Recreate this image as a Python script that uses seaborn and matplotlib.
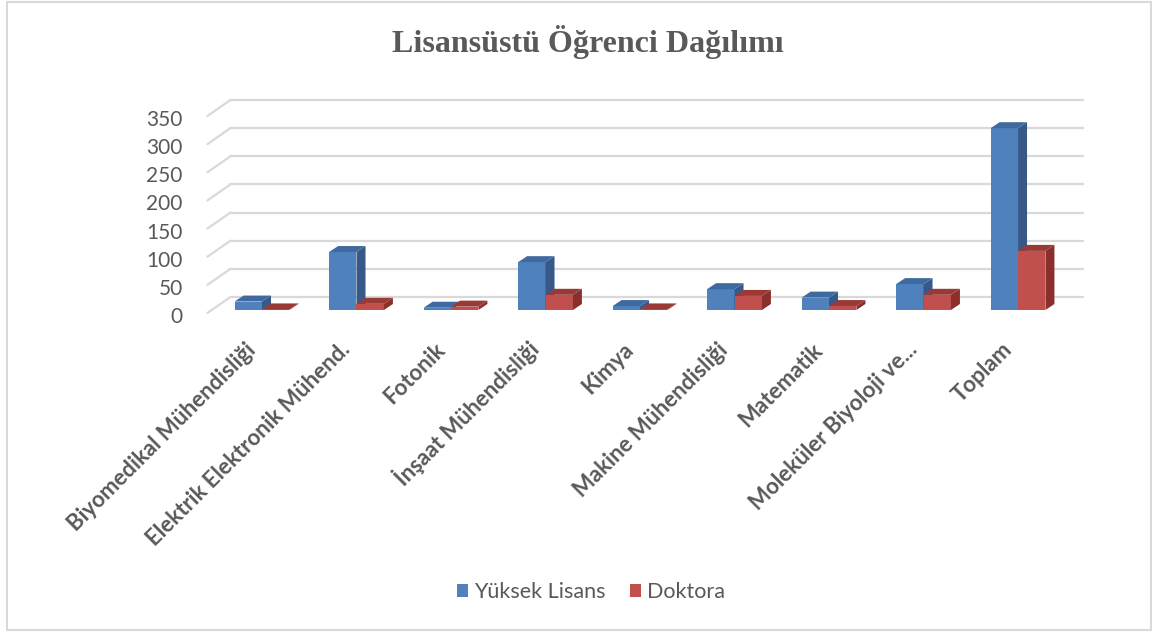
import numpy as np
import pandas as pd
import matplotlib
matplotlib.use("Agg")
import matplotlib.pyplot as plt
import matplotlib.transforms as mtransforms
from matplotlib.patches import Polygon, Rectangle, Patch
from matplotlib.lines import Line2D
import seaborn as sns

# veriler
bolumler = ["Biyomedikal Mühendisliği", "Elektrik Elektronik Mühend.", "Fotonik",
            "İnşaat Mühendisliği", "Kimya", "Makine Mühendisliği", "Matematik",
            "Moleküler Biyoloji ve...", "Toplam"]
yuksek_lisans = [15, 103, 4, 85, 7, 37, 22, 46, 323]
doktora = [1, 11, 6, 27, 1, 25, 7, 27, 105]
seriler = ["Yüksek Lisans", "Doktora"]
y_ticks = [0, 50, 100, 150, 200, 250, 300, 350]

on_renk = ["#4F81BD", "#C0504D"]
yan_renk = ["#36598A", "#8A2F2C"]
ust_renk = ["#3F6A9F", "#9A3A37"]
gri = "#595959"

df = pd.DataFrame({
    "bolum": bolumler * 2,
    "sayi": yuksek_lisans + doktora,
    "tur": [seriler[0]] * len(bolumler) + [seriler[1]] * len(bolumler),
})

sns.set_theme(style="white")
plt.rcParams['font.family'] = ['Lato', 'DejaVu Sans']

W, H = 1158, 633
fig = plt.figure(figsize=(W / 100, H / 100), dpi=100)
ax = fig.add_axes([212 / W, (H - 310) / H, 853 / W, 197 / H])

sns.barplot(data=df, x="bolum", y="sayi", hue="tur", palette=on_renk,
            width=0.58, saturation=1, errorbar=None, legend=False, ax=ax)
ax.autoscale(False)
ax.set_xlim(-0.529, 8.497)
ax.set_ylim(0, 350)
sns.despine(ax=ax, left=True, bottom=True)
ax.set_xlabel("")
ax.set_ylabel("")
ax.grid(False)


def kay(px, py):
    return mtransforms.ScaledTranslation(px / 100, py / 100, fig.dpi_scale_trans)


# arka duvar cizgileri
ident = mtransforms.IdentityTransform()
xl = ax.get_xlim()
for v in y_ticks:
    ax.add_line(Line2D(xl, [v, v], color="#D9D9D9", lw=1.6,
                       transform=ax.transData + kay(18.4, 13), zorder=0, clip_on=False))
    px, py = ax.transData.transform((xl[0], v))
    ax.add_line(Line2D([px - 4.6, px + 18.4], [py - 3, py + 13], color="#D9D9D9", lw=1.6,
                       transform=ident, zorder=0, clip_on=False))

# 3B yan ve ust yuzler
dx, dy = 9, 6
n = len(bolumler)
for i, bar in enumerate(ax.patches[:2 * n]):
    k = i // n
    bar.set_zorder(3 + k)
    bar.set_edgecolor("none")
    (x0, y0), (x1, y1) = ax.transData.transform(
        [(bar.get_x(), bar.get_y()), (bar.get_x() + bar.get_width(), bar.get_y() + bar.get_height())])
    yan = Polygon([(x1, y0), (x1 + dx, y0 + dy), (x1 + dx, y1 + dy), (x1, y1)],
                  closed=True, fc=yan_renk[k], ec="none", transform=ident,
                  zorder=3.1 + k, clip_on=False)
    ust = Polygon([(x0, y1), (x1, y1), (x1 + dx, y1 + dy), (x0 + dx, y1 + dy)],
                  closed=True, fc=ust_renk[k], ec="none", transform=ident,
                  zorder=3.1 + k, clip_on=False)
    ax.add_patch(yan)
    ax.add_patch(ust)

ax.set_yticks(y_ticks)
ax.set_yticklabels([str(v) for v in y_ticks])
ax.tick_params(axis="y", length=0, pad=21, labelsize=15, labelcolor=gri)
for t in ax.get_yticklabels():
    t.set_transform(t.get_transform() + kay(0, -5))

ax.set_xticks(range(n))
ax.set_xticklabels(bolumler, rotation=45, ha="right", va="baseline",
                   rotation_mode="anchor", fontweight="bold", fontsize=16, color=gri)
ax.tick_params(axis="x", length=0, pad=0)
for t in ax.get_xticklabels():
    t.set_transform(t.get_transform() + kay(-5, -41))

fig.text(588 / W, 1 - 52 / H, "Lisansüstü Öğrenci Dağılımı", family="Liberation Serif",
         weight="bold", size=23, color=gri, ha="center", va="baseline")

handles = [Patch(fc=on_renk[0], ec="none"), Patch(fc=on_renk[1], ec="none")]
leg = fig.legend(handles, seriler, loc="center", bbox_to_anchor=(591 / W, 1 - 592 / H),
                 ncol=2, frameon=False, fontsize=15.5, handlelength=0.52, handleheight=0.52,
                 handletextpad=0.3, columnspacing=1.1)
for t in leg.get_texts():
    t.set_color(gri)

fig.patches.append(Rectangle((7 / W, 3 / H), 1144 / W, 628 / H, transform=fig.transFigure,
                             fill=False, ec="#D9D9D9", lw=1.5))

fig.savefig("out.png", dpi=100)
